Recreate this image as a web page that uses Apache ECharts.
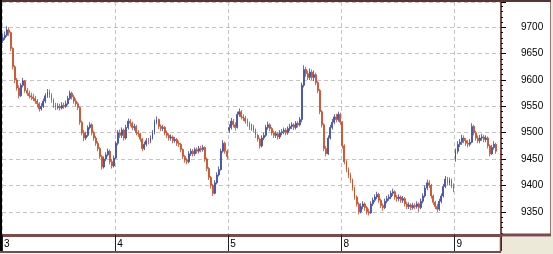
<!DOCTYPE html>
<html>
<head>
<meta charset="utf-8">
<script src="https://cdn.jsdelivr.net/npm/echarts@6/dist/echarts.min.js"></script>
<style>
html,body{margin:0;padding:0;background:#ffffff;}
#chart{width:553px;height:254px;}
</style>
</head>
<body>
<div id="chart"></div>
<script>
// ---- data ----
var dayLabels = ['3', '4', '5', '8', '9'];
var barsPerDay = 56;
var totalSlots = 247;

var opens = [
9675,9680,9685,9695,9690,9660,9625,9600,9585,9570,9590,9598,9580,9575,9570,9568,9565,9560,9555,9545,9550,9560,9570,9578,9572,9562,9552,9548,9550,9547,9552,9550,9555,9565,9575,9568,9560,9555,9548,9520,9500,9490,9495,9510,9515,9500,9490,9480,9470,9455,9435,9450,9458,9465,9445,9437,
9452,9480,9500,9495,9505,9490,9510,9522,9518,9510,9512,9500,9498,9488,9470,9478,9485,9483,9490,9500,9520,9525,9512,9508,9510,9500,9495,9490,9492,9485,9487,9480,9478,9468,9455,9448,9445,9460,9465,9460,9468,9465,9470,9468,9472,9450,9432,9415,9400,9385,9405,9420,9430,9465,9480,9465,
9505,9510,9522,9515,9510,9535,9540,9530,9528,9522,9518,9510,9512,9505,9495,9488,9475,9490,9495,9510,9515,9508,9500,9495,9498,9492,9500,9502,9505,9500,9508,9512,9515,9510,9518,9515,9525,9590,9620,9612,9605,9615,9605,9610,9595,9580,9540,9515,9470,9460,9490,9510,9520,9530,9525,9535,
9520,9475,9445,9430,9420,9410,9395,9378,9365,9350,9360,9365,9358,9350,9348,9365,9372,9378,9383,9372,9362,9358,9370,9375,9378,9385,9388,9378,9375,9378,9372,9375,9365,9360,9363,9358,9362,9360,9365,9358,9370,9380,9395,9405,9400,9380,9368,9360,9355,9370,9380,9398,9412,9405,9410,9400,
9450,9465,9478,9482,9490,9485,9480,9478,9482,9512,9500,9490,9485,9490,9492,9487,9490,9475,9460,9472,9478
];
var closes = [
9680,9685,9695,9690,9660,9625,9600,9585,9570,9590,9598,9580,9575,9570,9568,9565,9560,9555,9545,9550,9560,9570,9578,9572,9562,9552,9548,9550,9547,9552,9550,9555,9565,9575,9568,9560,9555,9548,9520,9500,9490,9495,9510,9515,9500,9490,9480,9470,9455,9435,9450,9458,9465,9445,9437,9452,
9480,9500,9495,9505,9490,9510,9522,9518,9510,9512,9500,9498,9488,9470,9478,9485,9483,9490,9500,9520,9525,9512,9508,9510,9500,9495,9490,9492,9485,9487,9480,9478,9468,9455,9448,9445,9460,9465,9460,9468,9465,9470,9468,9472,9450,9432,9415,9400,9385,9405,9420,9430,9465,9480,9465,9455,
9510,9522,9515,9510,9535,9540,9530,9528,9522,9518,9510,9512,9505,9495,9488,9475,9490,9495,9510,9515,9508,9500,9495,9498,9492,9500,9502,9505,9500,9508,9512,9515,9510,9518,9515,9525,9590,9620,9612,9605,9615,9605,9610,9595,9580,9540,9515,9470,9460,9490,9510,9520,9530,9525,9535,9520,
9475,9445,9430,9420,9410,9395,9378,9365,9350,9360,9365,9358,9350,9348,9365,9372,9378,9383,9372,9362,9358,9370,9375,9378,9385,9388,9378,9375,9378,9372,9375,9365,9360,9363,9358,9362,9360,9365,9358,9370,9380,9395,9405,9400,9380,9368,9360,9355,9370,9380,9398,9412,9405,9410,9400,9392,
9465,9478,9482,9490,9485,9480,9478,9482,9512,9500,9490,9485,9490,9492,9487,9490,9475,9460,9472,9478,9465
];
var highs = [
9688,9692,9702,9700,9692,9662,9628,9604,9590,9594,9604,9600,9585,9580,9576,9574,9570,9564,9558,9556,9565,9575,9583,9582,9575,9565,9557,9556,9555,9558,9557,9561,9570,9580,9578,9572,9565,9558,9550,9523,9505,9502,9514,9520,9518,9504,9494,9484,9473,9458,9455,9463,9470,9468,9450,9457,
9484,9505,9506,9510,9508,9515,9527,9526,9521,9517,9515,9505,9500,9490,9483,9490,9490,9495,9505,9525,9531,9527,9516,9515,9513,9504,9499,9497,9495,9492,9490,9485,9481,9470,9458,9452,9465,9470,9469,9472,9472,9475,9475,9477,9474,9453,9435,9418,9403,9410,9425,9436,9470,9486,9483,9468,
9516,9528,9526,9520,9540,9546,9543,9535,9532,9527,9521,9517,9515,9508,9498,9490,9495,9500,9515,9521,9518,9511,9504,9503,9501,9505,9507,9510,9509,9512,9517,9520,9518,9522,9522,9530,9595,9628,9625,9618,9622,9620,9618,9614,9598,9583,9543,9518,9475,9495,9515,9526,9535,9536,9540,9538,
9522,9478,9448,9434,9424,9413,9398,9381,9368,9366,9370,9368,9361,9356,9370,9377,9383,9388,9386,9375,9366,9375,9380,9383,9390,9394,9391,9382,9383,9381,9380,9378,9369,9368,9366,9367,9366,9370,9368,9375,9385,9400,9411,9410,9403,9383,9371,9365,9375,9385,9403,9418,9416,9415,9413,9404,
9470,9484,9488,9496,9495,9490,9486,9488,9518,9515,9504,9495,9496,9498,9496,9495,9493,9478,9477,9484,9481
];
var lows = [
9670,9676,9682,9684,9655,9620,9594,9580,9565,9568,9586,9576,9570,9565,9562,9560,9555,9548,9540,9542,9547,9556,9566,9566,9557,9547,9543,9544,9542,9544,9545,9547,9552,9562,9563,9555,9550,9543,9515,9495,9484,9486,9492,9506,9495,9485,9475,9465,9450,9430,9432,9446,9455,9440,9432,9434,
9450,9476,9490,9490,9485,9487,9506,9512,9505,9504,9495,9492,9483,9465,9467,9474,9478,9480,9487,9497,9516,9507,9503,9503,9495,9490,9485,9485,9480,9481,9475,9473,9463,9450,9443,9440,9442,9456,9455,9456,9460,9461,9463,9464,9445,9427,9410,9394,9380,9383,9402,9417,9428,9462,9460,9450,
9500,9506,9510,9504,9508,9530,9525,9522,9517,9512,9505,9504,9500,9490,9483,9470,9472,9486,9492,9506,9503,9495,9490,9490,9487,9488,9495,9497,9495,9496,9503,9507,9505,9506,9510,9512,9520,9586,9606,9600,9600,9600,9598,9590,9575,9535,9510,9465,9455,9458,9487,9506,9516,9520,9521,9515,
9470,9440,9425,9414,9405,9390,9373,9360,9345,9347,9355,9352,9345,9343,9346,9361,9368,9374,9367,9357,9352,9355,9366,9371,9374,9380,9373,9369,9370,9367,9367,9360,9355,9355,9353,9354,9355,9356,9350,9355,9366,9377,9391,9395,9375,9363,9355,9350,9352,9366,9377,9395,9400,9400,9395,9387,
9445,9460,9473,9477,9480,9475,9472,9474,9480,9495,9485,9480,9480,9485,9482,9482,9470,9455,9458,9468,9460
];

var yMin = 9306, yMax = 9748;

// ---- build ----
var categories = [];
for (var i = 0; i < totalSlots; i++) {
  var d = Math.floor(i / barsPerDay);
  categories.push(dayLabels[d] + '-' + (i % barsPerDay));
}
var ohlc = [];
for (var k = 0; k < closes.length; k++) {
  ohlc.push([opens[k], closes[k], lows[k], highs[k]]);
}

var brown = '#7d4a4a';
var upColor = '#3a48a4';
var downColor = '#c84a22';
var chart = echarts.init(document.getElementById('chart'), null, {renderer: 'canvas'});
var isDayStart = function (idx) { return idx % barsPerDay === 0; };

chart.setOption({
  animation: false,
  backgroundColor: '#ffffff',
  grid: { left: 2, right: 52, top: 2, bottom: 19, show: false },
  xAxis: {
    type: 'category',
    data: categories,
    boundaryGap: true,
    axisLine: { show: true, lineStyle: { color: brown, width: 3 } },
    axisTick: { show: true, interval: isDayStart, length: 16, lineStyle: { color: '#202020', width: 1 } },
    axisLabel: {
      show: true, interval: isDayStart, align: 'left', margin: 4,
      fontFamily: 'Liberation Sans', fontSize: 10, color: '#000000',
      padding: [0, 0, 0, 1],
      formatter: function (v) { return v.split('-')[0]; }
    },
    splitLine: { show: true, interval: isDayStart, lineStyle: { color: '#c4c4c4', type: [4, 3], width: 1 } }
  },
  yAxis: {
    type: 'value',
    position: 'right',
    min: yMin, max: yMax,
    splitNumber: 9,
    scale: true,
    axisLine: { show: true, lineStyle: { color: brown, width: 2 } },
    axisTick: { show: true, length: 5, lineStyle: { color: '#000000', width: 1 } },
    minorTick: { show: true, splitNumber: 5, length: 2, lineStyle: { color: '#000000', width: 1 } },
    axisLabel: {
      margin: 20, fontFamily: 'Liberation Sans', fontSize: 10, color: '#000000',
      showMinLabel: false, showMaxLabel: false,
      formatter: function (v) { return String(v); }
    },
    splitLine: { show: true, lineStyle: { color: '#c4c4c4', type: [4, 3], width: 1 } }
  },
  series: [{
    type: 'candlestick',
    data: ohlc,
    barWidth: 1.4,
    itemStyle: {
      color: upColor, color0: downColor,
      borderColor: upColor, borderColor0: downColor,
      borderColorDoji: downColor,
      borderWidth: 0.8
    }
  }],
  graphic: [
    { type: 'rect', z: 100, shape: { x: 502, y: 237, width: 51, height: 17 }, style: { fill: '#ece9d8' } },
    { type: 'rect', z: 100, shape: { x: 551, y: 0, width: 2, height: 254 }, style: { fill: '#ece9d8' } },
    { type: 'line', z: 101, shape: { x1: 550.5, y1: 0, x2: 550.5, y2: 236 }, style: { stroke: '#9a7878', lineWidth: 1 } },
    { type: 'line', z: 101, shape: { x1: 501, y1: 235, x2: 551, y2: 235 }, style: { stroke: brown, lineWidth: 3 } },
    { type: 'line', z: 101, shape: { x1: 0, y1: 1, x2: 551, y2: 1 }, style: { stroke: '#5a3434', lineWidth: 2 } },
    { type: 'line', z: 101, shape: { x1: 1, y1: 0, x2: 1, y2: 253 }, style: { stroke: '#000000', lineWidth: 2 } },
    { type: 'line', z: 101, shape: { x1: 0, y1: 252, x2: 501, y2: 252 }, style: { stroke: brown, lineWidth: 2 } },
    { type: 'line', z: 101, shape: { x1: 500.5, y1: 236, x2: 500.5, y2: 253 }, style: { stroke: brown, lineWidth: 1.5 } }
  ]
});
</script>
</body>
</html>
